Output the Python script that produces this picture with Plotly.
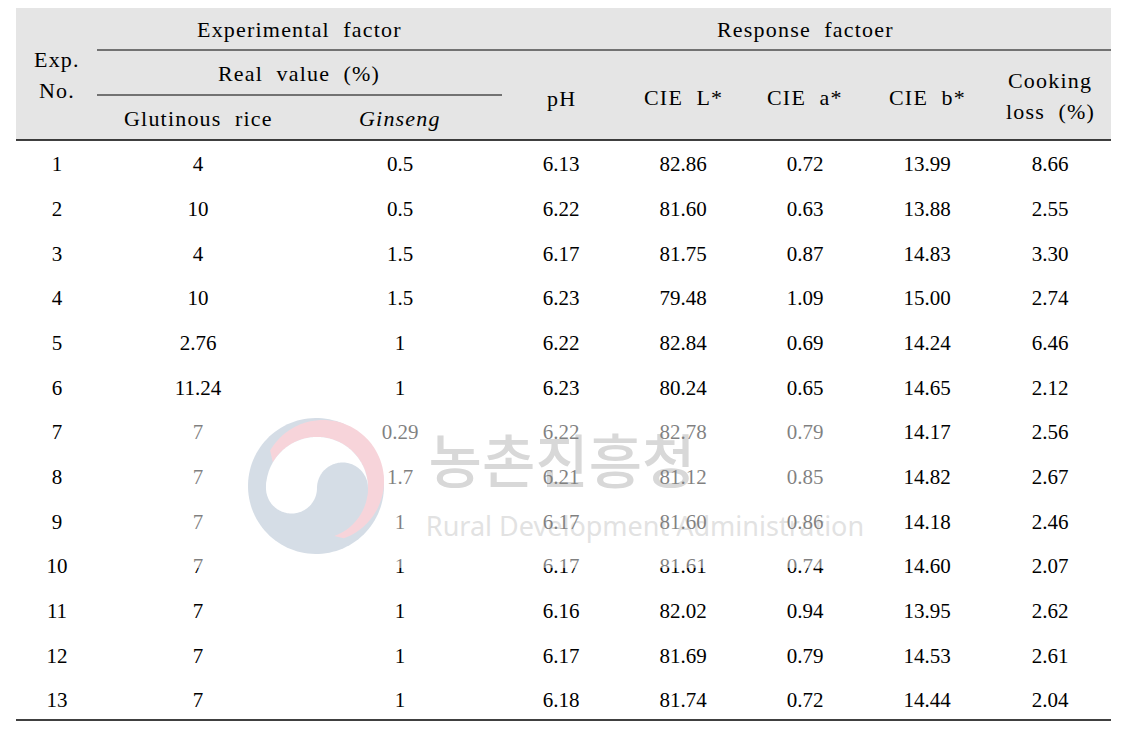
import numpy as np
import plotly.graph_objects as go

# ---------------- data ----------------
exp_no = ["1", "2", "3", "4", "5", "6", "7", "8", "9", "10", "11", "12", "13"]
glutinous_rice = ["4", "10", "4", "10", "2.76", "11.24", "7", "7", "7", "7", "7", "7", "7"]
ginseng = ["0.5", "0.5", "1.5", "1.5", "1", "1", "0.29", "1.7", "1", "1", "1", "1", "1"]
ph = ["6.13", "6.22", "6.17", "6.23", "6.22", "6.23", "6.22", "6.21", "6.17", "6.17", "6.16", "6.17", "6.18"]
cie_l = ["82.86", "81.60", "81.75", "79.48", "82.84", "80.24", "82.78", "81.12", "81.60", "81.61", "82.02", "81.69", "81.74"]
cie_a = ["0.72", "0.63", "0.87", "1.09", "0.69", "0.65", "0.79", "0.85", "0.86", "0.74", "0.94", "0.79", "0.72"]
cie_b = ["13.99", "13.88", "14.83", "15.00", "14.24", "14.65", "14.17", "14.82", "14.18", "14.60", "13.95", "14.53", "14.44"]
cooking_loss = ["8.66", "2.55", "3.30", "2.74", "6.46", "2.12", "2.56", "2.67", "2.46", "2.07", "2.62", "2.61", "2.04"]

columns = [exp_no, glutinous_rice, ginseng, ph, cie_l, cie_a, cie_b, cooking_loss]

# ---------------- layout geometry (page-pixel axes; page body has an 8px margin) ----------------
OFF = 8
W, H = 1126 - 2 * OFF, 730 - OFF
col_x = [57, 198, 400, 561, 683, 805, 927, 1050]
row_y0, row_h = 166, 44.67
left, right = 16, 1111
FONT = "Liberation Serif"
FS = 21

fig = go.Figure()

# watermark text (drawn beneath the table text, lightened by the overlay)
fig.add_trace(go.Scatter(
    x=[562], y=[468], mode="text", text=["농촌진흥청"],
    textfont=dict(family="Noto Sans CJK KR", size=58, color="#b0b0b0", weight=500),
    hoverinfo="skip", showlegend=False, cliponaxis=False))
fig.add_trace(go.Scatter(
    x=[645], y=[529], mode="text", text=["Rural Development Administration"],
    textfont=dict(family="Noto Sans", size=27, color="#c4c4c4"),
    hoverinfo="skip", showlegend=False, cliponaxis=False))

# table body text
row_pos = [row_y0 + i * row_h for i in range(len(exp_no))]
for cx, vals in zip(col_x, columns):
    fig.add_trace(go.Scatter(
        x=[cx] * len(vals), y=row_pos, mode="text", text=vals,
        textposition="middle center",
        textfont=dict(family=FONT, size=FS, color="black"),
        hoverinfo="skip", showlegend=False, cliponaxis=False))

# ---------------- shapes ----------------
shapes = []
shapes.append(dict(type="rect", xref="x", yref="y", x0=left, x1=right, y0=5, y1=140,
                   fillcolor="#e5e5e5", line=dict(width=0), layer="below"))


def hline(y, x0, x1, w=1.4):
    return dict(type="line", xref="x", yref="y", x0=x0, x1=x1, y0=y, y1=y,
                line=dict(color="black", width=w), layer="above")


shapes += [hline(5, left, right), hline(50, 97, right, 1.2), hline(95, 97, 502, 1.2),
           hline(140, left, right), hline(720, left, right)]


def circle_path(cx, cy, r, a0=0, a1=360, n=120):
    t = np.radians(np.linspace(a0, a1, n))
    return cx + r * np.cos(t), cy - r * np.sin(t)


def poly(xs, ys):
    return "M " + " L ".join(f"{x:.2f},{y:.2f}" for x, y in zip(xs, ys)) + " Z"


# logo (pre-overlay colours; the white overlay lightens them)
gray = "#abbbcd"
pink = "#efa9b5"
white = "#ffffff"
cx, cy = 316, 486
xs, ys = circle_path(cx, cy, 68)
shapes.append(dict(type="path", xref="x", yref="y", path=poly(xs, ys), fillcolor=gray,
                   line=dict(width=0), layer="below"))
ox, oy = circle_path(323, 481, 61, 150, -70)
ix, iy = circle_path(317, 488, 51, -70, 150)
shapes.append(dict(type="path", xref="x", yref="y",
                   path=poly(np.concatenate([ox, ix]), np.concatenate([oy, iy])),
                   fillcolor=pink, line=dict(width=0), layer="below"))
tx, ty = 317, 488
hx, hy = circle_path(tx, ty, 51, 0, 180)
shapes.append(dict(type="path", xref="x", yref="y", path=poly(hx, hy), fillcolor=white,
                   line=dict(width=0), layer="below"))
lx, ly = circle_path(tx - 25.5, ty, 25.5)
shapes.append(dict(type="path", xref="x", yref="y", path=poly(lx, ly), fillcolor=white,
                   line=dict(width=0), layer="below"))
rx, ry = circle_path(tx + 25.5, ty, 25.5)
shapes.append(dict(type="path", xref="x", yref="y", path=poly(rx, ry), fillcolor=gray,
                   line=dict(width=0), layer="below"))

# translucent watermark overlay
shapes.append(dict(type="rect", xref="x", yref="y", x0=185, x1=866, y0=405, y1=568,
                   fillcolor="rgba(255,255,255,0.5)", line=dict(width=0), layer="above"))

# ---------------- header annotations ----------------
LS = "<span style=\"font-family:'Liberation Serif',serif;letter-spacing:1.2px\">{}</span>"
headers = [
    ("Experimental  factor", 299, 29),
    ("Response  factoer", 805, 29),
    ("Exp.", 57, 59),
    ("No.", 57, 90),
    ("Real  value  (%)", 299, 73),
    ("Glutinous  rice", 198, 118),
    ("<i>Ginseng</i>", 400, 118),
    ("pH", 561, 98),
    ("CIE  L*", 683, 97),
    ("CIE  a*", 805, 97),
    ("CIE  b*", 927, 97),
    ("Cooking", 1050, 80),
    ("loss  (%)", 1050, 111),
]
annotations = [dict(text=LS.format(t), x=x, y=y, xref="x", yref="y", showarrow=False,
                    xanchor="center", yanchor="middle",
                    font=dict(family=FONT, size=22, color="black"))
               for t, x, y in headers]

fig.update_layout(
    width=W, height=H, autosize=False,
    margin=dict(l=0, r=0, t=0, b=0, pad=0),
    paper_bgcolor="white", plot_bgcolor="white",
    xaxis=dict(range=[OFF, OFF + W], visible=False, fixedrange=True),
    yaxis=dict(range=[OFF + H, OFF], visible=False, fixedrange=True),
    shapes=shapes, annotations=annotations, showlegend=False,
)

fig.write_html("out.html")
